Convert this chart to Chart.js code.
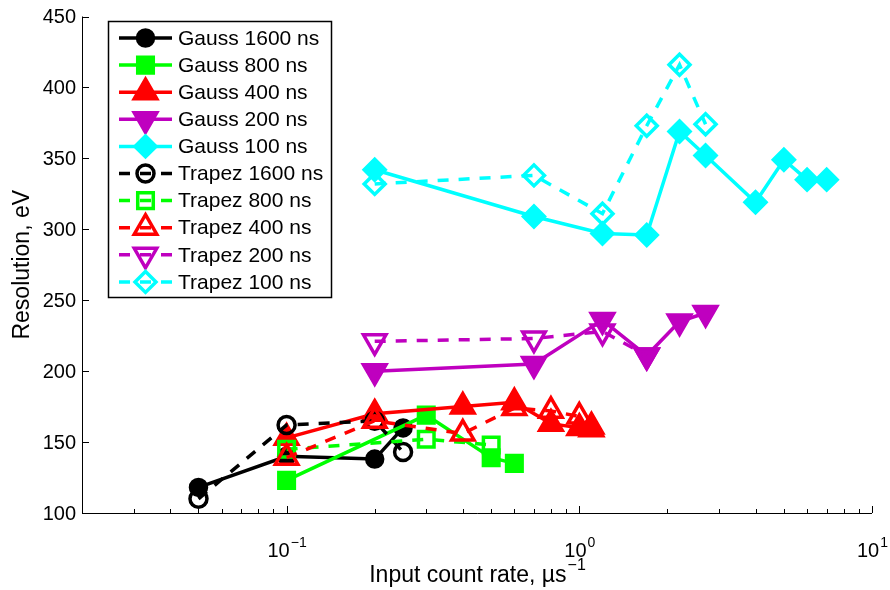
<!DOCTYPE html>
<html>
<head>
<meta charset="utf-8">
<script src="https://cdn.jsdelivr.net/npm/chart.js@4.4.0/dist/chart.umd.min.js"></script>
<style>
    html, body { margin: 0; padding: 0; background: #fff; }
</style>
</head>
<body>
<canvas id="chart" width="890" height="590"></canvas>
<script>
// Input count rate (1/us) and resolution (eV) per filter / shaping time
const gauss1600Rate = [0.05, 0.1, 0.2, 0.25];
const gauss1600Res = [118, 140, 138, 160];
const gauss800Rate = [0.1, 0.3, 0.5, 0.6];
const gauss800Res = [123, 169, 139, 135];
const gauss400Rate = [0.1, 0.2, 0.4, 0.6, 0.8, 1.0, 1.1];
const gauss400Res = [153, 170, 175, 178, 163, 160, 159];
const gauss200Rate = [0.2, 0.7, 1.2, 1.7, 2.2, 2.7];
const gauss200Res = [200, 205, 236, 211, 235, 241];
const gauss100Rate = [0.2, 0.7, 1.2, 1.7, 2.2, 2.7, 4, 5, 6, 7];
const gauss100Res = [342, 309, 297, 296, 369, 352, 319, 349, 335, 335];

const trapez1600Rate = [0.05, 0.1, 0.2, 0.25];
const trapez1600Res = [110, 162, 165, 143];
const trapez800Rate = [0.1, 0.3, 0.5];
const trapez800Res = [145, 152, 148];
const trapez400Rate = [0.1, 0.2, 0.4, 0.6, 0.8, 1.0, 1.1];
const trapez400Res = [139, 165, 156, 174, 172, 168, 161];
const trapez200Rate = [0.2, 0.7, 1.2, 1.7];
const trapez200Res = [221, 223, 228, 211];
const trapez100Rate = [0.2, 0.7, 1.2, 1.7, 2.2, 2.7];
const trapez100Res = [332, 338, 311, 373, 416, 374];

const xTicks = [0.1, 1, 10];
const xTickExp = ['\u22121', '0', '1'];
const yTicks = [100, 150, 200, 250, 300, 350, 400, 450];

const FONT = '"Liberation Sans", Arial, Helvetica, sans-serif';
const OPEN = 'rgba(0,0,0,0)';

function points(xs, ys) {
    return xs.map((x, i) => ({ x: x, y: ys[i] }));
}

function series(label, xs, ys, color, style, filled, dashed, radius, rotation) {
    return {
        label: label,
        data: points(xs, ys),
        showLine: true,
        borderColor: color,
        borderWidth: 3.5,
        borderDash: dashed ? [11, 10] : [],
        pointStyle: style,
        pointRotation: rotation || 0,
        pointRadius: radius,
        pointHoverRadius: radius,
        pointBorderWidth: 3.5,
        pointBorderColor: color,
        pointBackgroundColor: filled ? color : OPEN,
        backgroundColor: filled ? color : OPEN,
        tension: 0
    };
}

const datasets = [
    series('Gauss 1600 ns', gauss1600Rate, gauss1600Res, '#000000', 'circle', true, false, 8),
    series('Gauss 800 ns', gauss800Rate, gauss800Res, '#00ff00', 'rect', true, false, 11),
    series('Gauss 400 ns', gauss400Rate, gauss400Res, '#ff0000', 'triangle', true, false, 13),
    series('Gauss 200 ns', gauss200Rate, gauss200Res, '#bf00bf', 'triangle', true, false, 13, 180),
    series('Gauss 100 ns', gauss100Rate, gauss100Res, '#00ffff', 'rectRot', true, false, 10.5),
    series('Trapez 1600 ns', trapez1600Rate, trapez1600Res, '#000000', 'circle', false, true, 8.5),
    series('Trapez 800 ns', trapez800Rate, trapez800Res, '#00ff00', 'rect', false, true, 11),
    series('Trapez 400 ns', trapez400Rate, trapez400Res, '#ff0000', 'triangle', false, true, 13),
    series('Trapez 200 ns', trapez200Rate, trapez200Res, '#bf00bf', 'triangle', false, true, 13, 180),
    series('Trapez 100 ns', trapez100Rate, trapez100Res, '#00ffff', 'rectRot', false, true, 10.5)
];
// later series on top, like the original plot
datasets.forEach((ds, i) => { ds.order = datasets.length - i; });

// axes, ticks and labels drawn in the old-style plot look
const axesPlugin = {
    id: 'axesPlugin',
    afterDatasetsDraw(chart) {
        const ctx = chart.ctx;
        const area = chart.chartArea;
        const xs = chart.scales.x;
        const ys = chart.scales.y;
        ctx.save();
        ctx.strokeStyle = '#000';
        ctx.lineWidth = 1;
        ctx.beginPath();
        ctx.moveTo(area.left + 0.5, area.top);
        ctx.lineTo(area.left + 0.5, area.bottom + 0.5);
        ctx.lineTo(area.right, area.bottom + 0.5);
        ctx.stroke();

        // x ticks (log, with minor ticks)
        ctx.beginPath();
        for (let d = -2; d <= 1; d++) {
            for (let m = 1; m <= 9; m++) {
                const v = m * Math.pow(10, d);
                if (v < 0.0199 || v > 10.01) continue;
                const px = Math.round(xs.getPixelForValue(v)) + 0.5;
                const len = m === 1 ? 7 : 4;
                ctx.moveTo(px, area.bottom);
                ctx.lineTo(px, area.bottom - len);
            }
        }
        // y ticks
        yTicks.forEach(v => {
            const py = Math.round(ys.getPixelForValue(v)) + 0.5;
            ctx.moveTo(area.left, py);
            ctx.lineTo(area.left + 7, py);
        });
        ctx.stroke();

        ctx.fillStyle = '#000';
        ctx.font = '20px ' + FONT;
        ctx.textAlign = 'right';
        ctx.textBaseline = 'middle';
        yTicks.forEach(v => {
            ctx.fillText(String(v), area.left - 6, ys.getPixelForValue(v) + 1);
        });

        ctx.textAlign = 'left';
        ctx.textBaseline = 'alphabetic';
        xTicks.forEach((v, i) => {
            ctx.font = '20px ' + FONT;
            const w1 = ctx.measureText('10').width;
            ctx.font = '14px ' + FONT;
            const w2 = ctx.measureText(xTickExp[i]).width;
            const x0 = xs.getPixelForValue(v) - (w1 + w2) / 2;
            ctx.font = '20px ' + FONT;
            ctx.fillText('10', x0, 557);
            ctx.font = '14px ' + FONT;
            ctx.fillText(xTickExp[i], x0 + w1 + 1, 547);
        });

        // x title with superscript
        ctx.font = '23px ' + FONT;
        const t1 = 'Input count rate, \u00b5s';
        const tw1 = ctx.measureText(t1).width;
        ctx.font = '16px ' + FONT;
        const tw2 = ctx.measureText('\u22121').width;
        const tx = (area.left + area.right) / 2 - (tw1 + tw2) / 2;
        ctx.font = '23px ' + FONT;
        ctx.fillText(t1, tx, 582);
        ctx.font = '16px ' + FONT;
        ctx.fillText('\u22121', tx + tw1 + 1, 570);

        // y title
        ctx.save();
        ctx.translate(23, (area.top + area.bottom) / 2);
        ctx.rotate(-Math.PI / 2);
        ctx.font = '23px ' + FONT;
        ctx.textAlign = 'center';
        ctx.textBaseline = 'middle';
        ctx.fillText('Resolution, eV', 0, 0);
        ctx.restore();

        // legend box
        ctx.fillStyle = '#fff';
        ctx.fillRect(108, 21, 223, 276);
        ctx.strokeStyle = '#000';
        ctx.lineWidth = 1.5;
        ctx.strokeRect(108.5, 21.5, 223, 276);
        chart.data.datasets.forEach((ds, i) => {
            const y = 38 + i * 27.1;
            ctx.strokeStyle = ds.borderColor;
            ctx.lineWidth = ds.borderWidth;
            ctx.setLineDash(ds.borderDash);
            ctx.beginPath();
            ctx.moveTo(119, y);
            ctx.lineTo(172, y);
            ctx.stroke();
            ctx.setLineDash([]);
            ctx.fillStyle = ds.pointBackgroundColor;
            ctx.strokeStyle = ds.pointBorderColor;
            ctx.lineWidth = ds.pointBorderWidth;
            Chart.helpers.drawPoint(ctx, {
                pointStyle: ds.pointStyle,
                rotation: ds.pointRotation,
                radius: ds.pointRadius,
                borderWidth: ds.pointBorderWidth
            }, 145.5, y);
            ctx.fillStyle = '#000';
            ctx.font = '21px ' + FONT;
            ctx.textAlign = 'left';
            ctx.textBaseline = 'middle';
            ctx.fillText(ds.label, 178, y + 1);
        });
        ctx.restore();
    }
};

new Chart(document.getElementById('chart').getContext('2d'), {
    type: 'scatter',
    data: { datasets: datasets },
    options: {
        responsive: false,
        animation: false,
        layout: { padding: { left: 82, right: 18, top: 13, bottom: 77 } },
        plugins: {
            legend: { display: false },
            tooltip: { enabled: false }
        },
        scales: {
            x: { type: 'logarithmic', min: 0.02, max: 10, display: false },
            y: { type: 'linear', min: 100, max: 450, display: false }
        }
    },
    plugins: [axesPlugin]
});
</script>
</body>
</html>
